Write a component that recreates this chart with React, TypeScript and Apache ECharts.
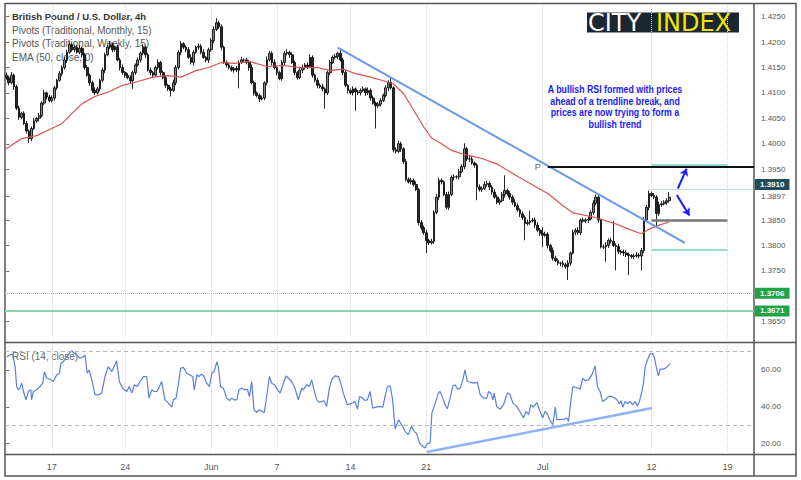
import React, { useEffect, useRef } from 'react';
import * as echarts from 'echarts';

// ---------- data ----------
const categories = Array.from({ length: 296 }, (_, i) => String(i));
const firstOpen = 1.4135;
const closes = [
  1.4130,1.4120,1.4135,1.4112,1.4070,1.4052,1.4060,1.4040,1.4025,1.4010,
  1.4030,1.4045,1.4050,1.4055,1.4080,1.4100,1.4092,1.4085,1.4090,1.4110,
  1.4125,1.4138,1.4150,1.4165,1.4180,1.4195,1.4185,1.4190,1.4180,1.4188,
  1.4175,1.4150,1.4135,1.4120,1.4105,1.4100,1.4108,1.4125,1.4145,1.4175,
  1.4190,1.4195,1.4185,1.4190,1.4165,1.4150,1.4140,1.4135,1.4130,1.4124,
  1.4140,1.4155,1.4165,1.4178,1.4190,1.4175,1.4145,1.4140,1.4135,1.4150,
  1.4160,1.4140,1.4130,1.4115,1.4108,1.4105,1.4120,1.4150,1.4180,1.4197,
  1.4190,1.4185,1.4170,1.4160,1.4180,1.4190,1.4192,1.4180,1.4170,1.4165,
  1.4185,1.4203,1.4225,1.4238,1.4230,1.4190,1.4160,1.4155,1.4150,1.4145,
  1.4148,1.4145,1.4160,1.4165,1.4165,1.4160,1.4150,1.4120,1.4100,1.4095,
  1.4088,1.4090,1.4120,1.4165,1.4178,1.4160,1.4150,1.4140,1.4128,1.4160,
  1.4178,1.4180,1.4175,1.4160,1.4140,1.4130,1.4145,1.4150,1.4155,1.4152,
  1.4170,1.4135,1.4125,1.4115,1.4112,1.4108,1.4100,1.4140,1.4160,1.4170,
  1.4172,1.4178,1.4165,1.4140,1.4115,1.4105,1.4100,1.4108,1.4102,1.4100,
  1.4105,1.4108,1.4100,1.4105,1.4090,1.4080,1.4075,1.4078,1.4085,1.4095,
  1.4110,1.4121,1.4110,1.3988,1.3985,1.4000,1.3990,1.3965,1.3930,1.3925,
  1.3928,1.3920,1.3910,1.3845,1.3835,1.3825,1.3810,1.3805,1.3808,1.3865,
  1.3895,1.3928,1.3925,1.3900,1.3875,1.3900,1.3934,1.3935,1.3935,1.3945,
  1.3955,1.3990,1.3970,1.3970,1.3962,1.3958,1.3915,1.3910,1.3912,1.3920,
  1.3922,1.3915,1.3905,1.3895,1.3885,1.3888,1.3900,1.3908,1.3902,1.3895,
  1.3885,1.3878,1.3870,1.3862,1.3855,1.3843,1.3845,1.3848,1.3850,1.3840,
  1.3830,1.3824,1.3820,1.3822,1.3800,1.3790,1.3775,1.3770,1.3765,1.3765,
  1.3762,1.3758,1.3765,1.3785,1.3826,1.3830,1.3825,1.3850,1.3848,1.3850,
  1.3852,1.3865,1.3883,1.3895,1.3850,1.3797,1.3797,1.3800,1.3810,1.3808,
  1.3800,1.3798,1.3788,1.3786,1.3785,1.3782,1.3780,1.3778,1.3779,1.3781,
  1.3779,1.3790,1.3850,1.3875,1.3902,1.3898,1.3895,1.3863,1.3880,1.3882,
  1.3885,1.3888,1.3895,
];
// wick lengths in pips (0.0001)
const upWick = [
  5,4,6,3,4,5,3,4,5,3, 4,6,3,5,4,6,3,4,5,4, 3,5,4,6,5,4,3,5,4,6, 3,4,5,3,4,6,4,3,5,4,
  5,6,4,3,5,4,6,3,4,5, 4,3,5,4,6,3,4,5,3,4, 6,3,4,5,3,4,6,5,4,5, 3,4,5,6,4,3,5,4,6,3,
  4,5,6,9,4,5,3,4,5,4, 3,5,4,6,3,4,5,6,4,3, 4,5,3,7,5,4,6,3,4,5, 4,6,3,5,4,3,5,6,4,5,
  6,4,3,5,4,6,3,4,5,4, 5,3,6,4,5,3,4,5,3,4, 4,5,3,6,4,5,3,4,5,4, 5,4,10,3,5,6,4,3,5,4,
  5,4,6,3,5,4,6,3,5,4, 6,5,4,3,5,6,4,5,3,6, 5,11,4,6,5,3,4,5,4,6, 5,4,3,6,5,4,5,30,4,5,
  4,6,5,3,5,4,6,20,4,5, 6,4,12,5,4,3,6,5,4,3, 5,4,6,3,5,4,6,3,5,4, 5,4,6,5,4,3,5,6,4,5,
  40,4,5,3,6,5,4,3,5,6, 4,5,6,5,6,4,5,4,6,5, 4,5,10,
];
const downWick = [
  4,5,3,6,4,5,4,3,5,8, 5,3,4,6,3,4,5,3,4,5, 4,3,5,4,6,3,4,5,3,4, 5,4,3,6,5,4,3,5,4,6,
  3,4,5,4,3,6,4,5,3,6, 16,4,3,5,4,6,3,5,4,3, 4,6,3,5,4,12,3,5,4,6, 4,5,3,4,6,3,5,4,3,5,
  6,4,5,3,4,6,3,5,4,3, 5,4,36,3,5,4,6,3,5,4, 6,3,4,5,3,6,4,5,3,4, 5,4,6,3,5,4,3,6,4,5,
  3,5,4,6,3,5,31,4,5,3, 4,6,3,5,4,6,3,5,37,4, 5,3,6,4,5,3,45,4,5,3, 4,6,3,5,4,3,6,5,4,3,
  5,4,3,6,5,4,25,4,3,5, 4,6,5,3,4,5,3,6,4,5, 3,5,4,6,3,5,26,4,5,3, 4,6,5,3,4,5,3,6,4,5,
  5,3,4,6,5,33,4,5,3,6, 4,5,23,3,6,4,5,3,4,6, 5,4,26,5,3,6,4,5,3,4, 6,3,5,4,5,3,4,29,5,4,
  3,47,5,4,6,5,38,4,5,3, 4,28,5,4,6,3,4,27,5,4, 3,5,4,
];
// EMA(50) read as [bar, value]
const emaPoints = [
  [0,1.3990],[6,1.4010],[12,1.4016],[18,1.4030],[22,1.4040],[25,1.4055],[30,1.4079],[35,1.4093],
  [40,1.4101],[46,1.4115],[51,1.4121],[58,1.4131],[64,1.4134],[69,1.4131],[75,1.4144],[80,1.4150],
  [85,1.4160],[90,1.4158],[96,1.4162],[103,1.4152],[110,1.4154],[116,1.4150],[123,1.4150],[128,1.4144],
  [133,1.4147],[138,1.4138],[144,1.4131],[149,1.4124],[153,1.4118],[157,1.4099],[161,1.4066],[165,1.4033],
  [168,1.4012],[172,1.4000],[176,1.3987],[181,1.3979],[188,1.3971],[194,1.3960],[200,1.3942],[207,1.3922],
  [214,1.3902],[220,1.3878],[224,1.3864],[232,1.3856],[240,1.3844],[246,1.3832],[251,1.3823],[254,1.3832],
  [258,1.3840],[262,1.3846],
];
// RSI(14) read as [bar, value]
const rsiPoints = [
  [0.2,67.2],[1.5,68.1],[2.5,68.6],[3.5,61.8],[4.1,51.0],[4.8,49.2],[5.4,50.1],[6.1,52.8],[6.8,48.3],[7.8,43.8],
  [8.7,48.3],[9.7,49.2],[10.0,43.8],[10.7,48.3],[12.0,49.2],[13.3,51.0],[14.4,52.8],[15.1,59.1],[16.0,55.5],[17.3,55.0],
  [18.6,53.7],[19.9,57.3],[21.0,58.2],[21.6,63.6],[22.6,64.5],[23.9,67.2],[24.9,69.0],[25.9,70.5],[26.8,69.0],[27.8,68.1],
  [29.1,66.3],[30.5,67.2],[31.1,68.1],[32.0,58.2],[32.8,60.0],[33.8,54.6],[35.1,46.5],[36.4,46.5],[37.7,47.4],[39.0,56.4],
  [40.3,61.8],[41.7,59.1],[42.6,61.8],[43.6,64.9],[44.7,53.7],[46.0,50.1],[47.6,48.3],[48.6,51.0],[49.6,47.4],[50.6,51.9],
  [51.8,51.0],[52.9,53.7],[54.2,56.4],[55.5,56.4],[56.4,44.7],[57.5,49.2],[58.4,48.3],[59.5,48.3],[60.5,51.0],[61.4,53.7],
  [62.7,43.8],[64.1,42.0],[65.4,39.8],[66.0,43.8],[67.1,44.7],[68.0,51.9],[68.9,60.9],[70.0,61.4],[71.3,58.2],[72.6,57.3],
  [73.7,56.4],[74.3,49.2],[75.3,57.3],[76.2,56.4],[77.2,57.7],[78.2,56.4],[79.2,52.8],[80.3,51.0],[81.2,58.2],[82.1,59.1],
  [83.2,64.3],[83.8,61.8],[84.7,51.0],[85.8,50.1],[87.1,44.7],[88.2,43.4],[89.1,44.7],[90.0,43.8],[91.1,43.8],[92.0,49.2],
  [93.0,50.1],[94.4,49.2],[95.3,49.5],[96.1,45.6],[97.0,53.7],[97.9,38.4],[99.0,36.9],[100.0,38.4],[101.0,37.5],[102.0,36.9],
  [102.9,45.6],[104.0,56.4],[104.9,52.8],[106.0,51.9],[107.3,49.2],[108.2,47.4],[109.3,51.9],[110.6,56.8],[111.5,55.5],[112.8,53.7],
  [114.1,50.1],[115.4,43.8],[116.8,50.1],[117.4,49.2],[118.7,51.9],[119.8,51.0],[120.7,54.6],[121.6,49.2],[122.7,43.8],[123.7,42.3],
  [124.7,42.9],[125.6,43.2],[126.6,40.2],[127.7,50.1],[128.6,54.6],[129.9,56.8],[131.3,56.4],[132.2,52.8],[133.2,47.4],[134.8,41.1],
  [135.9,41.6],[137.2,42.3],[137.8,42.9],[138.8,38.7],[139.6,45.6],[140.9,44.7],[141.8,43.4],[142.7,43.8],[143.8,48.3],[144.8,39.3],
  [146.1,39.8],[147.5,40.2],[148.8,39.8],[149.7,45.6],[150.6,51.0],[151.7,51.4],[152.6,44.7],[153.7,27.9],[155.0,33.0],[156.7,29.4],
  [157.6,26.7],[158.9,24.9],[160.2,29.4],[161.2,26.7],[162.2,25.4],[163.3,20.4],[164.6,18.6],[165.5,17.7],[166.4,20.0],[167.5,20.4],
  [168.2,36.6],[169.5,42.0],[170.8,47.4],[171.4,48.3],[172.5,44.7],[173.4,41.1],[174.3,38.9],[175.4,44.7],[176.5,51.4],[177.4,51.9],
  [178.3,49.5],[179.4,50.1],[180.4,54.6],[181.3,60.0],[182.2,53.7],[183.6,53.2],[184.9,52.8],[186.2,53.2],[187.3,46.5],[188.6,44.7],
  [189.9,44.7],[190.6,48.3],[191.5,47.4],[192.3,43.8],[192.8,47.4],[193.8,40.2],[195.2,38.7],[196.5,41.1],[198.1,47.7],[199.1,46.5],
  [200.2,42.0],[201.5,40.5],[202.4,38.7],[203.3,36.6],[204.4,33.9],[205.4,37.5],[206.4,35.7],[207.3,41.1],[208.3,39.8],[209.7,42.3],
  [210.7,38.4],[212.0,33.9],[212.9,37.5],[213.6,36.6],[214.9,32.6],[216.0,30.3],[217.0,39.8],[217.6,33.0],[218.9,33.0],[220.5,33.3],
  [221.5,33.9],[222.2,32.1],[223.1,42.9],[223.9,51.0],[224.8,50.6],[226.1,50.1],[226.8,49.5],[227.8,55.5],[228.8,54.2],[230.1,54.6],
  [231.4,57.3],[232.7,62.2],[233.6,51.0],[234.7,48.3],[235.6,42.9],[236.7,43.8],[238.0,45.6],[239.3,45.6],[240.6,44.7],[241.3,43.8],
  [242.3,41.6],[243.0,43.4],[243.6,39.8],[244.6,42.9],[245.5,41.6],[246.5,42.9],[247.6,41.1],[248.5,42.9],[249.4,40.5],[250.2,42.9],
  [251.2,48.3],[251.8,52.8],[252.5,61.8],[253.4,65.4],[254.4,68.6],[255.4,69.0],[256.2,66.3],[257.1,60.0],[257.7,56.8],[258.4,60.4],
  [259.7,60.4],[261.0,61.4],[262.4,63.6],
];
const priceTrend = [[131, 1.4189], [268.2, 1.3805]];
const rsiTrend = [[166.2, 15.5], [255.3, 39.3]];
const arrowUp = [[265.4, 1.3912], [268.9, 1.3951]];
const arrowDown = [[265.0, 1.3899], [270.0, 1.3859]];
const xTickIdx = [18, 47, 81, 107, 136, 166, 212, 255, 285];
const xTickLbl = ['17', '24', 'Jun', '7', '14', '21', 'Jul', '12', '19'];
const priceTicks = [1.365, 1.375, 1.38, 1.385, 1.3897, 1.395, 1.4, 1.405, 1.41, 1.415, 1.42, 1.425];
const rsiTicks = [20, 40, 60];
const monthlyP = 1.3954;
const monthlyS1 = 1.3706;
const monthlyS2 = 1.3671;
const weeklyR1 = 1.3958;
const weeklyP = 1.385;
const weeklyS1 = 1.3792;
const lastLevel = 1.391;
const monthStartBar = 214;
const weekStartBar = 255;
const weekEndBar = 285;
const lastBar = 295.5;

const tag = (text: string, bg: string, dy = 0) => ({
  show: true, position: 'end', formatter: text, color: '#fff', backgroundColor: bg,
  padding: [2, 5, 1, 5], fontSize: 8, fontWeight: 'bold', distance: 1, offset: [0, dy],
  fontFamily: 'Liberation Sans, Arial, sans-serif',
});

export default function App() {
  const ref = useRef<HTMLDivElement>(null);
  useEffect(() => {
    document.body.style.margin = '0';
    const chart = echarts.init(ref.current!, undefined, { renderer: 'svg' });
    const candles = closes.map((c, i) => {
      const o = i === 0 ? firstOpen : closes[i - 1];
      const hi = Math.max(o, c) + upWick[i] / 10000;
      const lo = Math.min(o, c) - downWick[i] / 10000;
      return [o, c, lo, hi];
    });
    const font = 'Liberation Sans, Arial, sans-serif';
    const vGrid = (xs: number[]) => xs.map((x) => ({ xAxis: x }));
    chart.setOption({
      animation: false,
      grid: [
        { left: 5, right: 47, top: 4, height: 338 },
        { left: 5, right: 47, top: 343, height: 111 },
      ],
      xAxis: [
        { type: 'category', gridIndex: 0, data: categories, axisLine: { show: false }, axisTick: { show: false }, axisLabel: { show: false }, splitLine: { show: false } },
        { type: 'value', gridIndex: 0, min: -0.5, max: 295.5, show: false },
        {
          type: 'category', gridIndex: 1, data: categories, axisLine: { show: false }, axisTick: { show: false }, splitLine: { show: false },
          axisLabel: {
            interval: (i: number) => xTickIdx.includes(i),
            formatter: (v: string) => { const k = xTickIdx.indexOf(Number(v)); return k >= 0 ? xTickLbl[k] : ''; },
            color: '#555', fontSize: 9, margin: 8, fontFamily: font,
          },
        },
        { type: 'value', gridIndex: 1, min: -0.5, max: 295.5, show: false },
      ],
      yAxis: [
        {
          type: 'value', gridIndex: 0, position: 'right', min: 1.361, max: 1.4275,
          splitLine: { show: false }, axisLine: { show: false },
          axisTick: { show: true, length: 3, lineStyle: { color: '#666' }, customValues: priceTicks },
          axisLabel: { customValues: priceTicks, formatter: (v: number) => v.toFixed(4), color: '#555', fontSize: 8, margin: 7, fontFamily: font },
        },
        {
          type: 'value', gridIndex: 1, position: 'right', min: 14.4, max: 74.6,
          splitLine: { show: false }, axisLine: { show: false },
          axisTick: { show: true, length: 3, lineStyle: { color: '#666' }, customValues: rsiTicks },
          axisLabel: { customValues: rsiTicks, formatter: (v: number) => v.toFixed(2), color: '#555', fontSize: 8, margin: 7, fontFamily: font },
        },
      ],
      series: [
        {
          type: 'line', xAxisIndex: 1, yAxisIndex: 0, data: [], silent: true,
          markLine: { silent: true, z: 1, symbol: ['none', 'none'], label: { show: false }, lineStyle: { color: '#d6d6d6', type: 'dotted', width: 1 }, data: vGrid(xTickIdx) },
        },
        {
          type: 'line', xAxisIndex: 3, yAxisIndex: 1, data: [], silent: true,
          markLine: { silent: true, z: 1, symbol: ['none', 'none'], label: { show: false }, lineStyle: { color: '#d6d6d6', type: 'dotted', width: 1 }, data: vGrid(xTickIdx) },
        },
        {
          type: 'candlestick', xAxisIndex: 0, yAxisIndex: 0, data: candles, barWidth: 2.2, z: 3,
          itemStyle: { color: '#858585', color0: '#2a2a2a', borderColor: '#0d0d0d', borderColor0: '#0d0d0d', borderWidth: 0.9 },
        },
        {
          type: 'line', xAxisIndex: 1, yAxisIndex: 0, data: emaPoints, showSymbol: false, clip: false, z: 4,
          lineStyle: { color: '#d9534f', width: 1.2 },
          markLine: {
            silent: true, symbol: ['none', 'none'], label: { show: false },
            data: [
              [{ coord: [monthStartBar, monthlyP], lineStyle: { color: '#111', width: 2, type: 'solid' }, label: { show: true, position: 'start', formatter: 'P', color: '#666', fontSize: 9, distance: 7, fontFamily: font } }, { coord: [lastBar, monthlyP] }],
              [{ coord: [weekStartBar, lastLevel], lineStyle: { color: '#7bbccc', width: 1, type: 'dotted' } }, { coord: [lastBar, lastLevel], label: tag('1.3910', '#1f4b5a', -5) }],
              [{ coord: [weekStartBar, weeklyR1], lineStyle: { color: '#98dcd6', width: 2, type: 'solid' } }, { coord: [weekEndBar, weeklyR1] }],
              [{ coord: [weekStartBar, weeklyP], lineStyle: { color: '#777', width: 2.5, type: 'solid' } }, { coord: [weekEndBar, weeklyP] }],
              [{ coord: [weekStartBar, weeklyS1], lineStyle: { color: '#98dcd6', width: 2, type: 'solid' } }, { coord: [weekEndBar, weeklyS1] }],
              [{ coord: [-0.5, monthlyS1], lineStyle: { color: '#6fcf8f', width: 1, type: 'dotted' } }, { coord: [lastBar, monthlyS1], label: tag('1.3706', '#20a345') }],
              [{ coord: [-0.5, monthlyS2], lineStyle: { color: '#86d7a4', width: 2, type: 'solid' } }, { coord: [lastBar, monthlyS2], label: tag('1.3671', '#20a345') }],
            ],
          },
        },
        {
          type: 'line', xAxisIndex: 1, yAxisIndex: 0, data: priceTrend, showSymbol: false, clip: false, z: 4,
          lineStyle: { color: '#6a97ea', width: 2 },
          markLine: {
            silent: true, symbol: ['none', 'arrow'], symbolSize: 7, label: { show: false },
            lineStyle: { color: '#1a1aff', width: 2, type: 'solid' },
            data: [
              [{ coord: arrowUp[0] }, { coord: arrowUp[1] }],
              [{ coord: arrowDown[0] }, { coord: arrowDown[1] }],
            ],
          },
        },
        {
          type: 'line', xAxisIndex: 3, yAxisIndex: 1, data: rsiPoints, showSymbol: false, z: 4,
          lineStyle: { color: '#5a7fe3', width: 1.2 },
          markLine: {
            silent: true, symbol: ['none', 'none'], label: { show: false },
            lineStyle: { color: '#b5b5b5', type: [4, 3], width: 1 },
            data: [{ yAxis: 70 }, { yAxis: 30 }],
          },
        },
        {
          type: 'line', xAxisIndex: 3, yAxisIndex: 1, data: rsiTrend, showSymbol: false, z: 4,
          lineStyle: { color: '#8fb1f6', width: 2.5 },
        },
      ],
      graphic: [
        { type: 'rect', shape: { x: 5, y: 3.5, width: 791, height: 472.5 }, style: { fill: 'none', stroke: '#555', lineWidth: 1.5 }, silent: true },
        { type: 'line', shape: { x1: 5, y1: 342.5, x2: 796, y2: 342.5 }, style: { stroke: '#555', lineWidth: 1.5 }, silent: true },
        { type: 'line', shape: { x1: 5, y1: 454.5, x2: 796, y2: 454.5 }, style: { stroke: '#555', lineWidth: 1.5 }, silent: true },
        { type: 'line', shape: { x1: 754, y1: 3.5, x2: 754, y2: 476 }, style: { stroke: '#555', lineWidth: 1.5 }, silent: true },
        { type: 'text', x: 12, y: 16.5, style: { text: 'British Pound / U.S. Dollar, 4h', fill: '#333', fontSize: 9.5, fontWeight: 'bold', fontFamily: font, verticalAlign: 'middle' } },
        { type: 'text', x: 12, y: 30.3, style: { text: 'Pivots (Traditional, Monthly, 15)', fill: '#555', fontSize: 10, fontFamily: font, verticalAlign: 'middle' } },
        { type: 'text', x: 12, y: 43.6, style: { text: 'Pivots (Traditional, Weekly, 15)', fill: '#555', fontSize: 10, fontFamily: font, verticalAlign: 'middle' } },
        { type: 'text', x: 12, y: 57.3, style: { text: 'EMA (50, close, 0)', fill: '#555', fontSize: 10, fontFamily: font, verticalAlign: 'middle' } },
        { type: 'text', x: 12, y: 356, style: { text: 'RSI (14, close)', fill: '#666', fontSize: 10, fontFamily: font, verticalAlign: 'middle' } },
        { type: 'rect', shape: { x: 587, y: 12.5, width: 152, height: 20 }, style: { fill: '#1b2631' }, silent: true },
        { type: 'text', x: 588, y: 23, style: { text: 'CITY', fill: '#ffffff', fontSize: 24, fontFamily: 'DejaVu Sans, sans-serif', verticalAlign: 'middle' } },
        { type: 'text', x: 656, y: 23, style: { text: 'INDEX', fill: '#f2e500', fontSize: 24, fontFamily: 'DejaVu Sans, sans-serif', verticalAlign: 'middle' } },
        {
          type: 'text', x: 615, y: 83.5, scaleX: 0.8,
          style: {
            text: 'A bullish RSI formed with prices\nahead of a trendline break, and\nprices are now trying to form a\nbullish trend',
            fill: '#1a1aff', fontSize: 11, fontWeight: 'bold', lineHeight: 11.5,
            fontFamily: 'Liberation Sans, Arial, sans-serif', align: 'center', verticalAlign: 'top',
          },
        },
      ],
    });
    return () => chart.dispose();
  }, []);
  return <div ref={ref} style={{ width: 801, height: 480 }} />;
}
